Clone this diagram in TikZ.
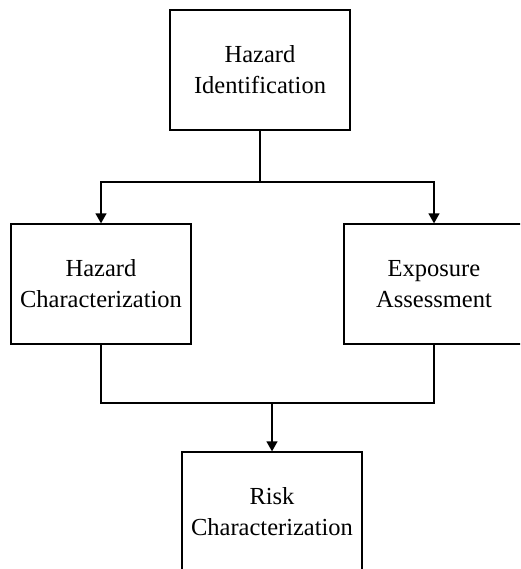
\documentclass[tikz,border=0pt]{standalone}
\usepackage{fontspec}
\setmainfont{Liberation Serif}
\usetikzlibrary{arrows.meta}
\begin{document}
\begin{tikzpicture}[x=1pt,y=-1pt,
  box/.style={draw, line width=1.3pt, minimum width=180pt, minimum height=120pt, inner sep=0pt, align=center,
    font=\fontsize{24.5pt}{31pt}\selectfont},
  conn/.style={line width=1.3pt},
  arr/.style={conn, -{Triangle[length=10pt,width=11pt]}}]
\useasboundingbox (0,0) rectangle (520,569);
\clip (0,0) rectangle (520,569);
\node[box] (hi) at (260,70) {Hazard\\Identification};
\node[box] (hc) at (101,284) {Hazard\\Characterization};
\node[box] (ea) at (434,284) {Exposure\\Assessment};
\node[box] (rc) at (272,512) {Risk\\Characterization};
\coordinate (j1) at (260,182);
\coordinate (j2) at (272,403);
\draw[conn] (hi.south) -- (j1);
\draw[arr] (j1) -| (hc.north);
\draw[arr] (j1) -| (ea.north);
\draw[conn] (hc.south) |- (j2) -| (ea.south);
\draw[arr] (j2) -- (rc.north);
\end{tikzpicture}
\end{document}
